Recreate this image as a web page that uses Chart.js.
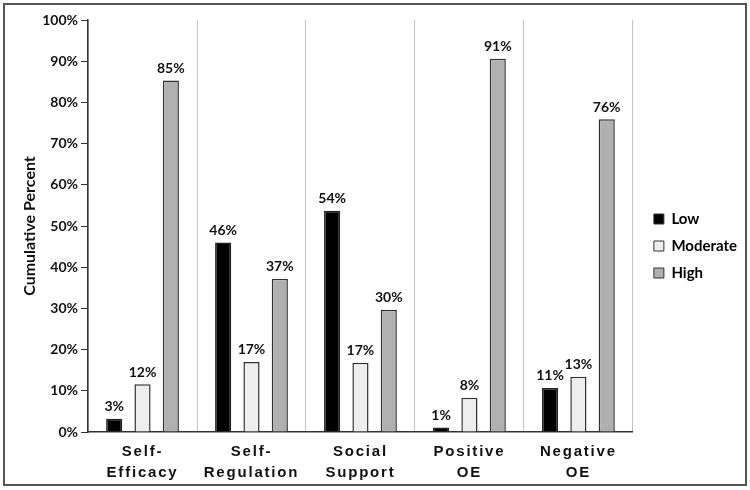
<!DOCTYPE html>
<html lang="en">
<head>
    <meta charset="UTF-8">
    <title>Cumulative Percent</title>
    <script src="https://cdn.jsdelivr.net/npm/chart.js"></script>
    <style>
        body { margin: 0; background: #fff; }
        #wrap { position: relative; width: 750px; height: 490px; }
        #frame { position: absolute; left: 3px; top: 3px; width: 740px; height: 479px; border: 2px solid #555; pointer-events: none; }
    </style>
</head>
<body>
<div id="wrap">
    <canvas id="chart" width="750" height="490"></canvas>
    <div id="frame"></div>
</div>
<script>
    // categories (x axis, two lines each)
    const categories = [['Self-', 'Efficacy'], ['Self-', 'Regulation'], ['Social', 'Support'], ['Positive', 'OE'], ['Negative', 'OE']];
    // series values, percent
    const lowValues = [3.2, 46.0, 53.7, 1.1, 10.7];
    const moderateValues = [11.6, 17.0, 16.8, 8.3, 13.4];
    const highValues = [85.3, 37.2, 29.7, 90.6, 75.9];
    const yTicks = [0, 10, 20, 30, 40, 50, 60, 70, 80, 90, 100];

    // value labels above each bar
    const valueLabels = {
        id: 'valueLabels',
        afterDatasetsDraw(chart) {
            const ctx = chart.ctx;
            ctx.save();
            ctx.font = 'bold 14px Lato';
            ctx.fillStyle = '#111';
            ctx.textAlign = 'center';
            ctx.textBaseline = 'bottom';
            chart.data.datasets.forEach((ds, i) => {
                chart.getDatasetMeta(i).data.forEach((bar, j) => {
                    ctx.fillText(Math.round(ds.data[j]) + '%', bar.x, bar.y - 5);
                });
            });
            ctx.restore();
        }
    };

    // spaced-out letters on the category labels, legend nudged into place
    const tweaks = {
        id: 'tweaks',
        afterLayout(chart) {
            const lg = chart.legend;
            lg.left += 9;
            lg.right += 9;
            lg.top -= 10;
            lg.bottom -= 10;
        },
        beforeDraw(chart) {
            const s = chart.scales.x;
            if (s._spaced) return;
            const orig = s.drawLabels.bind(s);
            s.drawLabels = function (area) {
                this.ctx.save();
                this.ctx.letterSpacing = '1.8px';
                orig(area);
                this.ctx.restore();
            };
            s._spaced = true;
        }
    };

    new Chart(document.getElementById('chart'), {
        type: 'bar',
        data: {
            labels: categories,
            datasets: [
                { label: 'Low', data: lowValues, backgroundColor: '#000', borderColor: '#222', borderWidth: 1.5 },
                { label: 'Moderate', data: moderateValues, backgroundColor: '#eeeeee', borderColor: '#333', borderWidth: 1.5 },
                { label: 'High', data: highValues, backgroundColor: '#b0b0b0', borderColor: '#333', borderWidth: 1.5 }
            ]
        },
        options: {
            responsive: false,
            animation: false,
            categoryPercentage: 0.78,
            barPercentage: 0.57,
            layout: { padding: { top: 20, right: 12, bottom: -2, left: 16 } },
            plugins: {
                tooltip: { enabled: false },
                legend: {
                    position: 'right',
                    labels: {
                        boxWidth: 10,
                        boxHeight: 10,
                        padding: 12,
                        color: '#111',
                        font: { family: 'Lato', weight: 'bold', size: 15 },
                        generateLabels(chart) {
                            return chart.data.datasets.map((ds, i) => ({
                                text: ds.label,
                                fillStyle: ds.backgroundColor,
                                strokeStyle: '#333',
                                lineWidth: 1,
                                datasetIndex: i
                            }));
                        }
                    }
                }
            },
            scales: {
                x: {
                    grid: { offset: true, drawTicks: false, color: '#c4c4c4', lineWidth: 1 },
                    border: { color: '#333', width: 1.5 },
                    ticks: {
                        color: '#111',
                        padding: 9,
                        maxRotation: 0,
                        font: { family: 'Liberation Sans', weight: 'bold', size: 15, lineHeight: 1.4 }
                    }
                },
                y: {
                    min: 0,
                    max: 100,
                    afterBuildTicks(scale) { scale.ticks = yTicks.map(v => ({ value: v })); },
                    grid: { drawOnChartArea: false, drawTicks: true, tickLength: 7, color: '#333' },
                    border: { color: '#333', width: 1.5 },
                    ticks: {
                        color: '#111',
                        padding: 3,
                        font: { family: 'Lato', weight: 'bold', size: 14 },
                        callback: v => v + '%'
                    },
                    title: {
                        display: true,
                        text: 'Cumulative Percent',
                        color: '#111',
                        padding: { top: 4, bottom: 0 },
                        font: { family: 'Lato', weight: 'bold', size: 16 }
                    }
                }
            }
        },
        plugins: [valueLabels, tweaks]
    });
</script>
</body>
</html>
